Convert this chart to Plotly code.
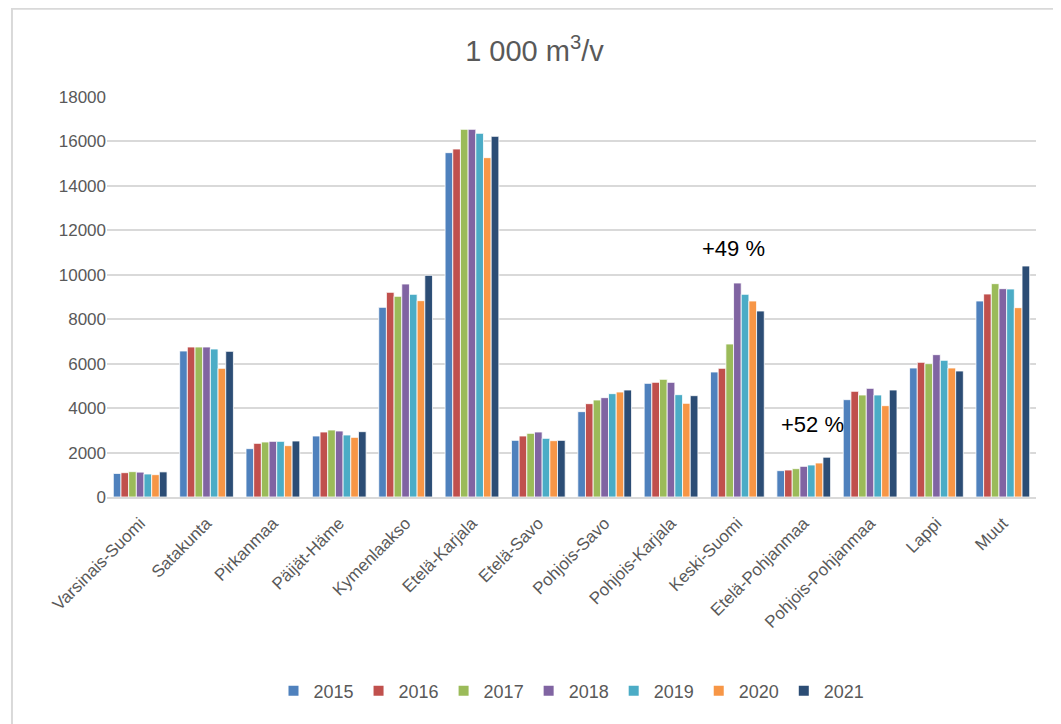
import plotly.graph_objects as go

regions = ["Varsinais-Suomi", "Satakunta", "Pirkanmaa", "Päijät-Häme", "Kymenlaakso",
           "Etelä-Karjala", "Etelä-Savo", "Pohjois-Savo", "Pohjois-Karjala", "Keski-Suomi",
           "Etelä-Pohjanmaa", "Pohjois-Pohjanmaa", "Lappi", "Muut"]

y2015 = [1060, 6570, 2175, 2745, 8535, 15495, 2550, 3840, 5115, 5625, 1185, 4380, 5805, 8820]
y2016 = [1095, 6750, 2415, 2925, 9210, 15660, 2745, 4200, 5160, 5790, 1215, 4755, 6060, 9135]
y2017 = [1140, 6750, 2475, 3015, 9030, 16545, 2865, 4365, 5295, 6885, 1275, 4590, 6000, 9600]
y2018 = [1120, 6750, 2505, 2970, 9585, 16545, 2925, 4470, 5160, 9630, 1380, 4890, 6405, 9375]
y2019 = [1035, 6660, 2505, 2790, 9120, 16365, 2640, 4650, 4605, 9120, 1440, 4590, 6150, 9360]
y2020 = [1005, 5790, 2310, 2685, 8835, 15270, 2535, 4725, 4215, 8820, 1530, 4110, 5805, 8520]
y2021 = [1130, 6555, 2520, 2940, 9975, 16230, 2550, 4815, 4560, 8370, 1790, 4815, 5670, 10395]

years = ["2015", "2016", "2017", "2018", "2019", "2020", "2021"]
series = [y2015, y2016, y2017, y2018, y2019, y2020, y2021]
colors = ["#4F81BD", "#C0504D", "#9BBB59", "#8064A2", "#4BACC6", "#F79646", "#2C4D75"]

font_family = "Liberation Sans Narrow, Liberation Sans, Arial, sans-serif"

fig = go.Figure()
for name, vals, col in zip(years, series, colors):
    fig.add_trace(go.Bar(x=regions, y=vals, name=name,
                         marker=dict(color=col, line=dict(color="white", width=0.8))))

fig.update_layout(
    width=1053, height=716,
    margin=dict(l=99, r=25, t=89, b=227),
    paper_bgcolor="white", plot_bgcolor="white",
    barmode="group", bargap=0.19, bargroupgap=0.0,
    font=dict(family=font_family, color="#595959", size=17),
    title=dict(text="1 000 m<sup>3</sup>/v", x=0.5, xanchor="center", y=0.94, yanchor="middle",
               font=dict(size=29, color="#595959", family=font_family)),
    legend=dict(orientation="h", x=0.5, xanchor="center", y=-0.485, yanchor="middle",
                font=dict(size=18, color="#595959"), traceorder="normal",
                itemwidth=30, itemsizing="constant"),
    showlegend=True,
)

fig.update_yaxes(range=[0, 18000], dtick=2000, showgrid=True, gridcolor="#D9D9D9", gridwidth=1.5,
                 zeroline=False, showline=False, tickfont=dict(size=17, color="#595959"),
                 tickformat="d", ticks="", ticklen=0, automargin=False)
fig.update_xaxes(tickangle=-45, showline=True, linecolor="#D9D9D9", linewidth=1.5,
                 tickfont=dict(size=17, color="#595959"), ticks="", automargin=False,
                 ticklabelstandoff=8)

fig.add_annotation(x="Keski-Suomi", y=11200, text="+49 %", showarrow=False,
                   font=dict(size=22, color="black", family=font_family), xanchor="center", xshift=-4)
fig.add_annotation(x="Etelä-Pohjanmaa", y=3250, text="+52 %", showarrow=False,
                   font=dict(size=22, color="black", family=font_family), xanchor="center", xshift=9)

fig.add_shape(type="rect", xref="paper", yref="paper",
              x0=-0.1023, x1=1.1, y0=-0.7, y1=1.2206,
              line=dict(color="#D9D9D9", width=2), fillcolor="rgba(0,0,0,0)", layer="below")

fig.write_html("out.html")
